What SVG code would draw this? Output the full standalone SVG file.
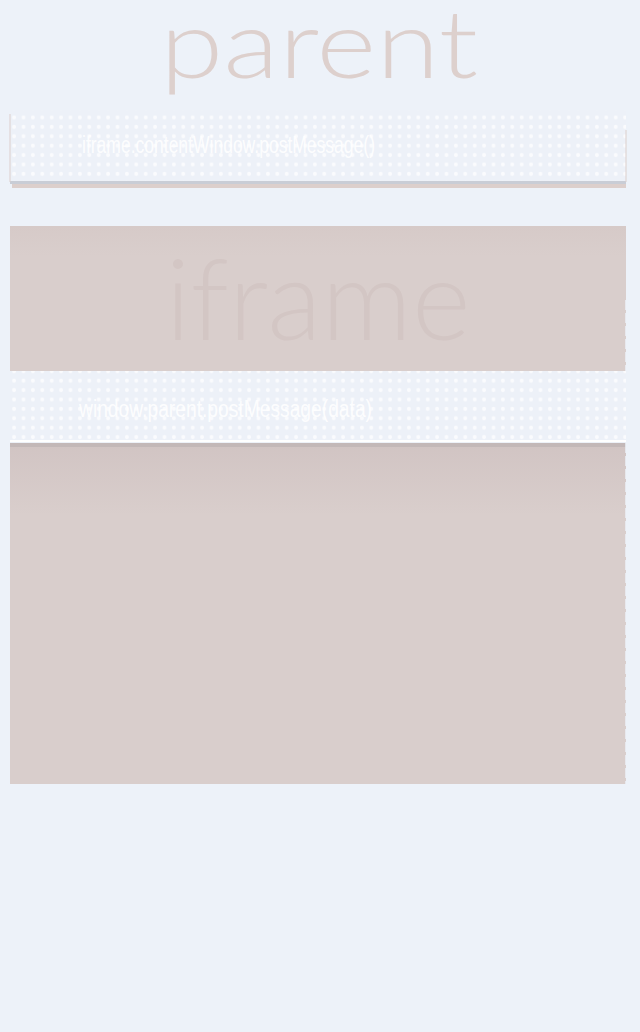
<svg xmlns="http://www.w3.org/2000/svg" width="640" height="1032" viewBox="0 0 640 1032">
<defs>
<style>
.title{font-family:Lato,"Open Sans","Liberation Sans",sans-serif;font-weight:300;text-anchor:middle}
.code{font-family:"Liberation Sans",sans-serif;font-size:23px;fill:#ffffff;fill-opacity:0.9}
</style>
<pattern id="dots" width="9.4" height="9.4" patternUnits="userSpaceOnUse">
<rect width="9.4" height="9.4" fill="#EDF1F8"/>
<circle cx="4.7" cy="4.7" r="2" fill="#ffffff" fill-opacity="0.7"/>
</pattern>
<linearGradient id="topband" x1="0" y1="0" x2="0" y2="1">
<stop offset="0" stop-color="#D6CAC8"/>
<stop offset="1" stop-color="#D9CECC"/>
</linearGradient>
<linearGradient id="shade" x1="0" y1="0" x2="0" y2="1">
<stop offset="0" stop-color="#D1C4C3"/>
<stop offset="1" stop-color="#D9CECC"/>
</linearGradient>
</defs>
<rect width="640" height="1032" fill="#EDF2F9"/>
<g id="parent-label">
<text class="title" x="319" y="78" font-size="94" fill="#DDD0CD" textLength="318" lengthAdjust="spacingAndGlyphs">parent</text>
</g>
<g id="parent-banner">
<rect x="12" y="184" width="614" height="4" fill="#DCCFCC"/>
<rect x="10" y="181" width="616" height="3" fill="#C9CDD6"/>
<rect x="10" y="110" width="616" height="71" fill="url(#dots)"/>
<line x1="10" y1="114" x2="10" y2="182" stroke="#DCCFCC" stroke-width="1"/>
<line x1="626" y1="130" x2="626" y2="182" stroke="#DCCFCC" stroke-width="1"/>
<text class="code" x="82" y="153" textLength="293" lengthAdjust="spacingAndGlyphs">iframe.contentWindow.postMessage()</text>
</g>
<g id="iframe">
<rect x="10" y="226" width="616" height="558" fill="#D9CECC"/>
<rect x="10" y="226" width="616" height="30" fill="url(#topband)"/>
<text class="title" x="318" y="340" font-size="112" fill="#D3C6C4" textLength="305" lengthAdjust="spacingAndGlyphs">iframe</text>
<rect x="10" y="443" width="616" height="72" fill="url(#shade)"/>
<rect x="10" y="443" width="616" height="4" fill="#C3B8B8"/>
<line x1="626" y1="300" x2="626" y2="784" stroke="#EDF2F9" stroke-width="1.5" stroke-dasharray="10 3"/>
</g>
<g id="iframe-banner">
<rect x="10" y="371" width="616" height="72" fill="url(#dots)"/>
<line x1="10" y1="441" x2="626" y2="441" stroke="#ffffff" stroke-width="2"/>
<text class="code" x="79" y="417" textLength="293" lengthAdjust="spacingAndGlyphs">window.parent.postMessage(data)</text>
</g>
<g id="connectors"></g>
</svg>
